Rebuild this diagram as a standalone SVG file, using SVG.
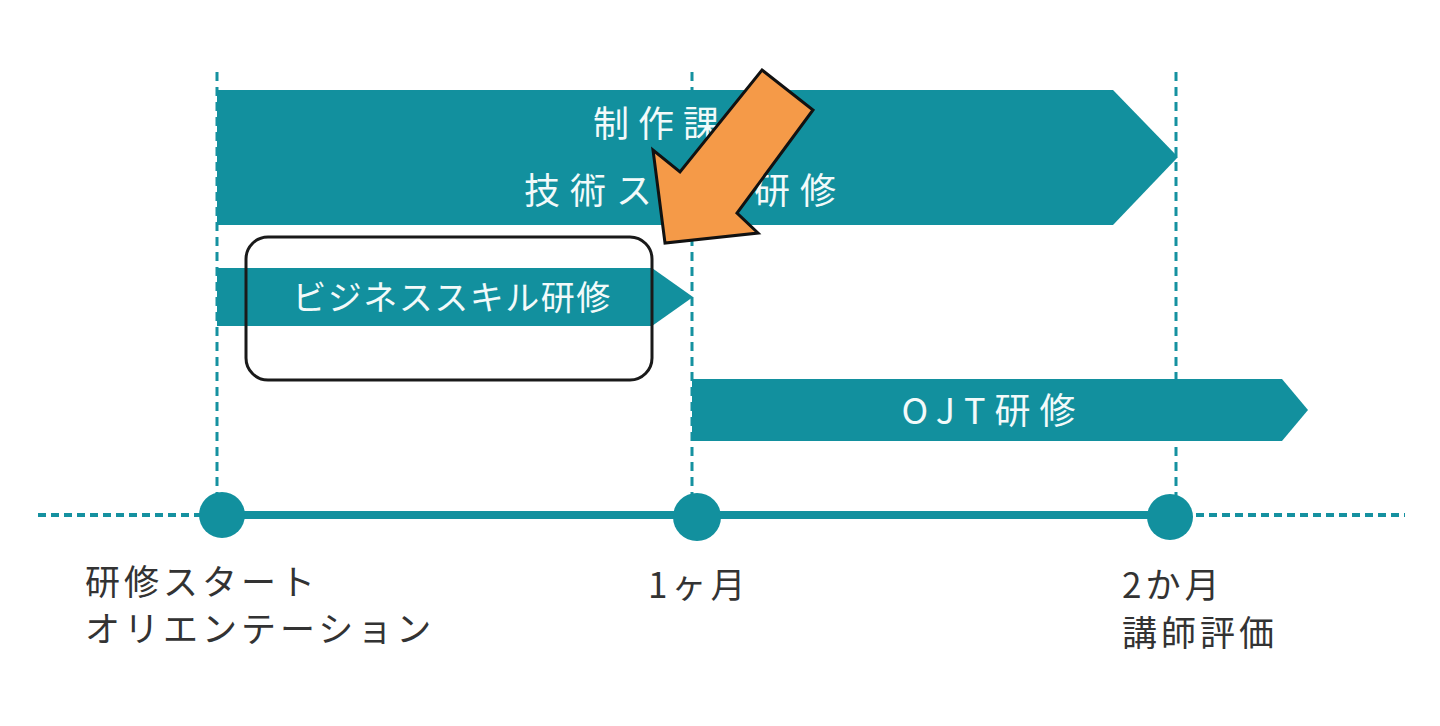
<svg xmlns="http://www.w3.org/2000/svg" width="1440" height="726" viewBox="0 0 1440 726">
<style>
.vg{stroke:#1591A0;stroke-width:3;stroke-dasharray:9 6;fill:none}
.bar{fill:#12909E}
.bt{fill:#F2FAFA;font-family:"Noto Sans CJK JP","Noto Sans",sans-serif;text-anchor:middle;dominant-baseline:central}
.lb{fill:#333;font-family:"Noto Sans CJK JP","Noto Sans",sans-serif;font-size:35px;letter-spacing:4px}
.dot{fill:#12909E}
</style>
<rect width="1440" height="726" fill="#fff"/>
<g id="guides">
<line class="vg" x1="217" y1="72" x2="217" y2="500"/>
<line class="vg" x1="692" y1="72" x2="692" y2="500"/>
<line class="vg" x1="1176" y1="72" x2="1176" y2="500"/>
</g>
<g id="bar-tech">
<polygon class="bar" points="217,90 1113,90 1178,157 1113,225 217,225"/>
<text class="bt" x="683" y="121" font-size="36" letter-spacing="9">制作課題</text>
<text class="bt" x="685" y="188" font-size="36" letter-spacing="10">技術スキル研修</text>
</g>
<g id="bar-business">
<polygon class="bar" points="217,268 652,268 693,297 652,326 217,326"/>
<text class="bt" x="452" y="295" font-size="34" letter-spacing="1.5">ビジネススキル研修</text>
</g>
<g id="bar-ojt">
<polygon class="bar" points="692,379 1282,379 1308,410 1282,441 692,441"/>
<text class="bt" x="993" y="408" font-size="36" letter-spacing="9">OJT研修</text>
</g>
<g id="highlight">
<rect x="246" y="237" width="406" height="143" rx="22" fill="none" stroke="#1a1a1a" stroke-width="3"/>
</g>
<g id="connectors">
<line x1="38" y1="515" x2="222" y2="515" stroke="#1591A0" stroke-width="4" stroke-dasharray="8 5"/>
<line x1="1170" y1="515" x2="1405" y2="515" stroke="#1591A0" stroke-width="4" stroke-dasharray="8 5"/>
<line x1="222" y1="515" x2="1170" y2="515" stroke="#12909E" stroke-width="8"/>
</g>
<g id="milestone-start">
<circle class="dot" cx="222" cy="515" r="23"/>
<text class="lb" x="85" y="595">研修スタート</text>
<text class="lb" x="85" y="642">オリエンテーション</text>
</g>
<g id="milestone-1m">
<circle class="dot" cx="697" cy="517" r="24"/>
<text class="lb" x="648" y="598">1ヶ月</text>
</g>
<g id="milestone-2m">
<circle class="dot" cx="1170" cy="517" r="23"/>
<text class="lb" x="1122" y="598">2か月</text>
<text class="lb" x="1122" y="646">講師評価</text>
</g>
<g id="pointer">
<polygon points="762,70 813,110 737,213 758,233 665,243 653,150 680,172" fill="#F59A48" stroke="#111" stroke-width="3" stroke-linejoin="miter"/>
</g>
</svg>
